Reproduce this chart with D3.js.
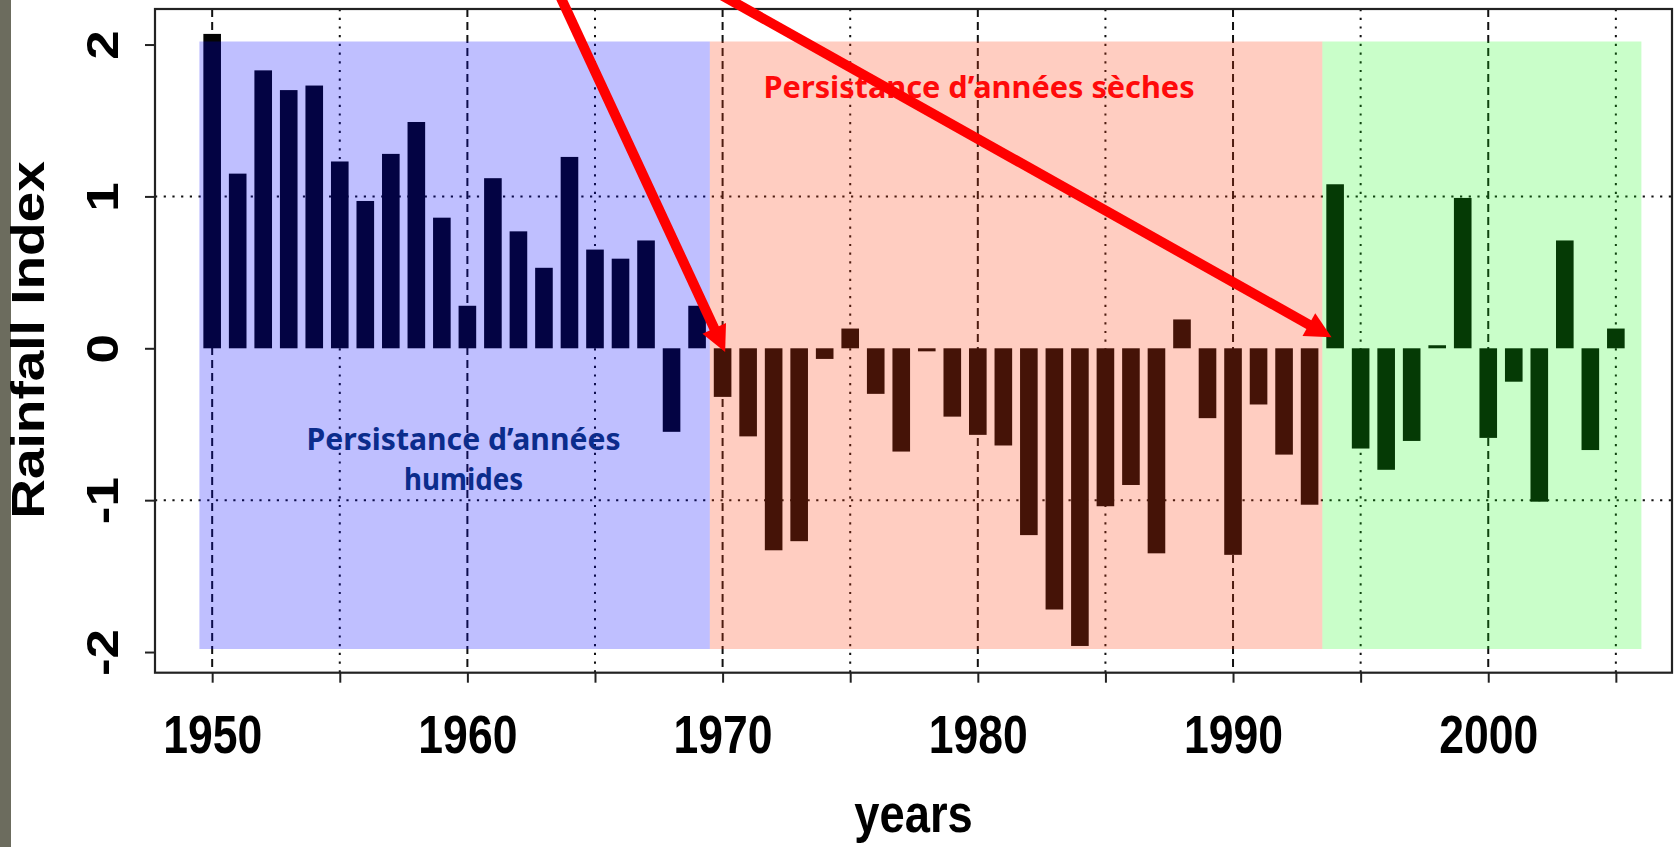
<!DOCTYPE html>
<html><head><meta charset="utf-8">
<script src="https://cdn.jsdelivr.net/npm/d3@7"></script>
<style>html,body{margin:0;padding:0;background:#fff;overflow:hidden}</style>
</head><body>
<svg id="chart" width="1677" height="847"></svg>
<script>
// ---------- data ----------
const years = [1950,1951,1952,1953,1954,1955,1956,1957,1958,1959,
               1960,1961,1962,1963,1964,1965,1966,1967,1968,1969,
               1970,1971,1972,1973,1974,1975,1976,1977,1978,1979,
               1980,1981,1982,1983,1984,1985,1986,1987,1988,1989,
               1990,1991,1992,1993,1994,1995,1996,1997,1998,1999,
               2000,2001,2002,2003,2004,2005];
const rainfallIndex = [2.07,1.15,1.83,1.70,1.73,1.23,0.97,1.28,1.49,0.86,
                       0.28,1.12,0.77,0.53,1.26,0.65,0.59,0.71,-0.55,0.28,
                       -0.32,-0.58,-1.33,-1.27,-0.07,0.13,-0.30,-0.68,-0.02,-0.45,
                       -0.57,-0.64,-1.23,-1.72,-1.96,-1.04,-0.90,-1.35,0.19,-0.46,
                       -1.36,-0.37,-0.70,-1.03,1.08,-0.66,-0.80,-0.61,0.02,0.99,
                       -0.59,-0.22,-1.01,0.71,-0.67,0.13];
const periodStart = [1949.5, 1969.5, 1993.5];
const periodEnd   = [1969.5, 1993.5, 2006.0];
const periodLow   = [-1.98, -1.98, -1.98];
const periodHigh  = [2.02, 2.02, 2.02];
const xTickValues = [1950,1955,1960,1965,1970,1975,1980,1985,1990,1995,2000,2005];
const xTickLabels = [1950,1960,1970,1980,1990,2000];
const yTickValues = [-2,-1,0,1,2];
const yGridValues = [-1,1];
const xTitle = "years";
const yTitle = "Rainfall Index";
const wetText = ["Persistance d\u2019années", "humides"];
const dryText = "Persistance d\u2019années sèches";
const arrowFrom = [[1962.8, 2.62], [1966.83, 2.62]];
const arrowTo   = [[1970.1, -0.024], [1993.86, 0.072]];

// ---------- styles ----------
const periodFill = ["rgba(0,0,255,0.25)", "rgba(255,62,14,0.26)", "rgba(10,250,10,0.22)"];
const FONT = "'Liberation Sans', Arial, Helvetica, sans-serif";
const ANN_FONT = "'Noto Sans', 'DejaVu Sans', sans-serif";
const SQ = 0.84; // horizontal squeeze of the original picture

const svg = d3.select("#chart");
const L = 155, R = 1672, T = 9, B = 672.7;

const x = d3.scaleLinear().domain([1947.76, 2007.2]).range([L, R]);
const y = d3.scaleLinear().domain([-2.136, 2.234]).range([B, T]);

svg.append("rect").attr("x",0).attr("y",0).attr("width",1677).attr("height",847).attr("fill","#fff");
svg.append("rect").attr("x",0).attr("y",0).attr("width",11).attr("height",847).attr("fill","#6c6c5e");

// gridlines
const grid = svg.append("g");
grid.selectAll("line.v").data(xTickValues).join("line")
  .attr("x1", d => x(d)).attr("x2", d => x(d))
  .attr("y1", T).attr("y2", B)
  .attr("stroke", "#111").attr("stroke-width", 2)
  .attr("stroke-dasharray", d => d % 10 === 0 ? "8,5" : "2.2,6.5");
grid.selectAll("line.h").data(yGridValues).join("line")
  .attr("x1", L).attr("x2", R)
  .attr("y1", d => y(d)).attr("y2", d => y(d))
  .attr("stroke", "#111").attr("stroke-width", 2)
  .attr("stroke-dasharray", "2.2,6.5");

// bars
const bw = 0.69;
svg.append("g").selectAll("rect").data(years).join("rect")
  .attr("x", d => x(d - bw/2))
  .attr("width", x(bw) - x(0))
  .attr("y", (d,i) => y(Math.max(0, rainfallIndex[i])))
  .attr("height", (d,i) => Math.abs(y(rainfallIndex[i]) - y(0)))
  .attr("fill", "#050505");

// period shading (semi-transparent, over bars)
svg.append("g").selectAll("rect").data(periodStart).join("rect")
  .attr("x", (d,i) => x(d))
  .attr("width", (d,i) => x(periodEnd[i]) - x(d))
  .attr("y", (d,i) => y(periodHigh[i]))
  .attr("height", (d,i) => y(periodLow[i]) - y(periodHigh[i]))
  .attr("fill", (d,i) => periodFill[i]);

// axes
const xAxis = d3.axisBottom(x).tickValues(xTickValues).tickSize(10).tickSizeOuter(0)
  .tickFormat(d => xTickLabels.includes(d) ? String(d) : "");
const gx = svg.append("g").attr("transform", `translate(0,${B})`).call(xAxis);
gx.select(".domain").remove();
gx.selectAll(".tick line").attr("stroke", "#222").attr("stroke-width", 2);
gx.selectAll(".tick text")
  .attr("y", 80).attr("dy", null)
  .attr("transform", `scale(${SQ},1)`)
  .attr("fill", "#000")
  .style("font-family", FONT).style("font-weight", "bold").style("font-size", "53px");

const yAxis = d3.axisLeft(y).tickValues(yTickValues).tickSize(10).tickSizeOuter(0)
  .tickFormat(d => String(d));
const gy = svg.append("g").attr("transform", `translate(${L},0)`).call(yAxis);
gy.select(".domain").remove();
gy.selectAll(".tick line").attr("stroke", "#222").attr("stroke-width", 2);
gy.selectAll(".tick text")
  .attr("x", null).attr("dy", null)
  .attr("text-anchor", "middle")
  .attr("transform", `translate(${117.5 - L},0) scale(${SQ},1) rotate(-90)`)
  .attr("fill", "#000")
  .style("font-family", FONT).style("font-weight", "bold").style("font-size", "53px");

// box
svg.append("rect").attr("x", L).attr("y", T).attr("width", R - L).attr("height", B - T)
  .attr("fill", "none").attr("stroke", "#222").attr("stroke-width", 2.2);

// axis titles
svg.append("text").text(xTitle)
  .attr("transform", `translate(${(L+R)/2},831.5) scale(${SQ},1)`)
  .attr("text-anchor", "middle").attr("fill", "#000")
  .style("font-family", FONT).style("font-weight", "bold").style("font-size", "54px");
svg.append("text").text(yTitle)
  .attr("transform", `translate(43.5,340) scale(${SQ},1) rotate(-90)`)
  .attr("text-anchor", "middle").attr("fill", "#000")
  .style("font-family", FONT).style("font-weight", "bold").style("font-size", "55px");

// annotation texts
const wetCx = x(1959.85);
svg.append("text").text(wetText[0])
  .attr("x", wetCx).attr("y", y(-0.67)).attr("text-anchor", "middle")
  .attr("textLength", 314).attr("lengthAdjust", "spacingAndGlyphs")
  .attr("fill", "#0b2c8c")
  .style("font-family", ANN_FONT).style("font-weight", "bold").style("font-size", "30px");
svg.append("text").text(wetText[1])
  .attr("x", wetCx).attr("y", y(-0.93)).attr("text-anchor", "middle")
  .attr("textLength", 119).attr("lengthAdjust", "spacingAndGlyphs")
  .attr("fill", "#0b2c8c")
  .style("font-family", ANN_FONT).style("font-weight", "bold").style("font-size", "30px");
svg.append("text").text(dryText)
  .attr("x", x(1980.05)).attr("y", y(1.645)).attr("text-anchor", "middle")
  .attr("textLength", 431).attr("lengthAdjust", "spacingAndGlyphs")
  .attr("fill", "#ff0a0a")
  .style("font-family", ANN_FONT).style("font-weight", "bold").style("font-size", "31px");

// arrows
const arrows = svg.append("g");
arrowFrom.forEach((f, i) => {
  const p0 = [x(f[0]), y(f[1])], p1 = [x(arrowTo[i][0]), y(arrowTo[i][1])];
  const dx = p1[0]-p0[0], dy = p1[1]-p0[1], len = Math.hypot(dx, dy);
  const ux = dx/len, uy = dy/len, hl = 26, hw = 13;
  const bx = p1[0] - ux*hl, by = p1[1] - uy*hl;
  arrows.append("line")
    .attr("x1", p0[0]).attr("y1", p0[1]).attr("x2", bx + ux*2).attr("y2", by + uy*2)
    .attr("stroke", "#ff0000").attr("stroke-width", 10);
  arrows.append("path")
    .attr("d", `M${p1[0]},${p1[1]}L${bx - uy*hw},${by + ux*hw}L${bx + uy*hw},${by - ux*hw}Z`)
    .attr("fill", "#ff0000");
});
</script>
</body></html>
